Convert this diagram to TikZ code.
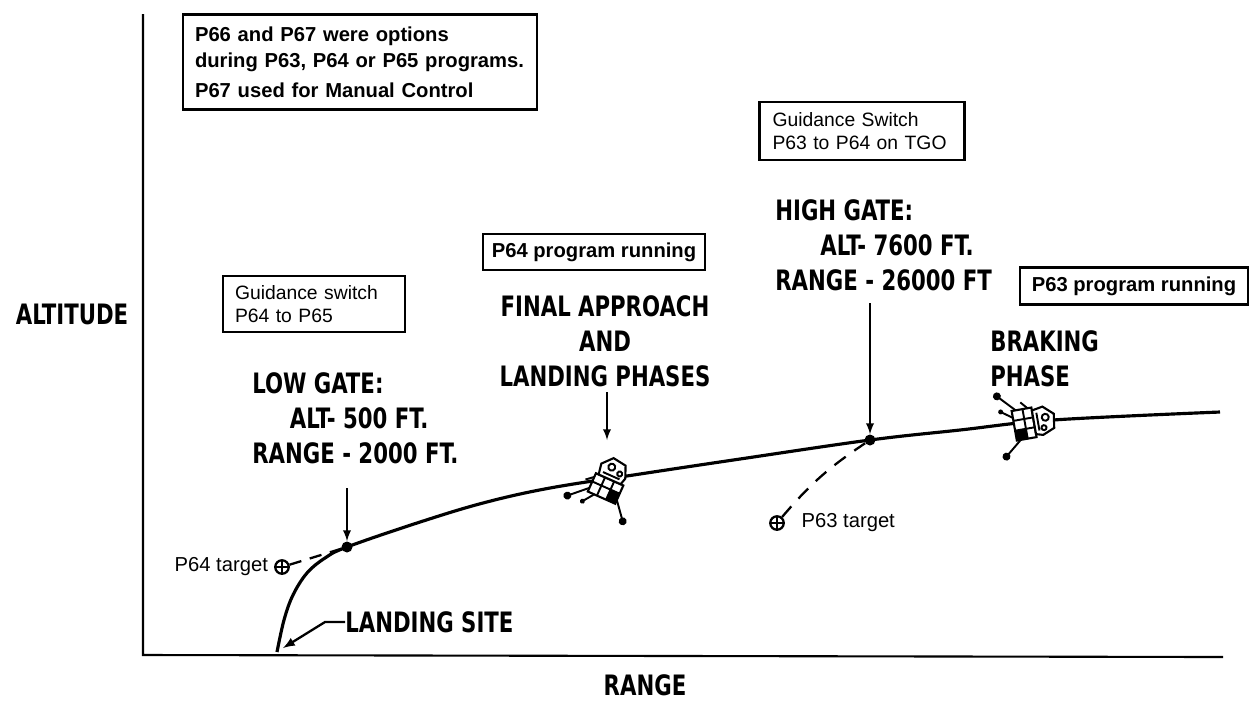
\documentclass[tikz,border=0pt]{standalone}
\usepackage{fontspec}
\setmainfont{Liberation Sans}
\newfontfamily\handfont{DejaVu Sans Condensed}[FakeStretch=0.84]
\usetikzlibrary{arrows}

\begin{document}
\begin{tikzpicture}[x=0.02cm,y=-0.02cm,
  axis/.style={line width=1.2pt},
  traj/.style={line width=1.8pt},
  note/.style={draw,line width=1.3pt,align=left,inner sep=0pt,font=\fontsize{11}{13.5}\selectfont},
  hand/.style={font=\handfont\bfseries\fontsize{16}{20}\selectfont,align=left,inner sep=0pt},
  gate/.style={circle,fill,inner sep=0pt,minimum size=0.22cm},
  target/.style={circle,draw,line width=1.3pt,inner sep=0pt,minimum size=0.27cm,
    path picture={\draw[line width=0.9pt] (path picture bounding box.north) -- (path picture bounding box.south)
      (path picture bounding box.west) -- (path picture bounding box.east);}},
  lm/.pic={
    \draw[fill=white,line width=1.2pt] (-15,-4) rectangle (15,16);
    \draw[line width=1.1pt] (-15,5) -- (15,5) (-5,-4) -- (-5,16) (5,-4) -- (5,16);
    \fill (5,5) rectangle (15,16);
    \draw[fill=white,line width=1.2pt] (-12,-4) -- (-14,-15) -- (-5,-25) -- (9,-23) -- (14,-11) -- (12,-4) -- cycle;
    \draw[line width=1.1pt] (-3,-16) circle (3.5) (7,-13) circle (2.5) (-9,-8) -- (9,-8);
    \draw[line width=1.1pt] (-15,12) -- (-32,28) (15,12) -- (29,29) (-8,16) -- (-16,27) (-15,0) -- (-22,6);
    \fill (-32,28) circle (4) (29,29) circle (4) (-16,27) circle (2.5);
  }]
\useasboundingbox (0,0) rectangle (1260,708);

% axes
\draw[axis] (143,14) -- (143,655) -- (1223,657);
\node[hand] (alt) at (72,314) {ALTITUDE};
\node[hand] (range) at (645,685) {RANGE};

% boxes
\node[note,minimum width=7.08cm,minimum height=1.9cm,text width=6.6cm,font=\bfseries\fontsize{11.5}{15}\selectfont] (opts) at (360,62)
  {P66 and P67 were options\\ during P63, P64 or P65 programs.\\[2pt] P67 used for Manual Control};
\node[note,minimum width=4.1cm,minimum height=1.16cm,text width=3.58cm] (sw63) at (862,131)
  {Guidance Switch\\ P63 to P64 on TGO};
\node[note,minimum width=4.56cm,minimum height=0.74cm,align=center,font=\bfseries\fontsize{11.5}{14}\selectfont] (run63) at (1134,286)
  {P63 program running};
\node[note,minimum width=4.44cm,minimum height=0.72cm,align=center,font=\bfseries\fontsize{11.5}{14}\selectfont] (run64) at (594,252)
  {P64 program running};
\node[note,minimum width=3.64cm,minimum height=1.12cm,text width=3.16cm] (sw64) at (314,304)
  {Guidance switch\\ P64 to P65};

% hand lettering
\node[hand,anchor=north west] (low) at (252,372) {LOW GATE:\\ \hspace{0.75cm}ALT- 500 FT.\\ RANGE - 2000 FT.};
\node[hand,align=center] (final) at (605,341) {FINAL APPROACH\\ AND\\ LANDING PHASES};
\node[hand,anchor=north west] (high) at (775,199) {HIGH GATE:\\ \hspace{0.9cm}ALT- 7600 FT.\\ RANGE - 26000 FT};
\node[hand,anchor=north west] (brake) at (990,330) {BRAKING\\ PHASE};
\node[hand,anchor=west] (site) at (345,622) {LANDING SITE};

% trajectory
\draw[traj] plot[smooth,tension=0.6] coordinates {(277,652) (284,620) (293,595) (307,573) (325,558) (347,547)
  (417,523) (483,503) (550,488) (640,474) (740,459) (870,440) (960,430) (1053,420) (1220,412)};
\node[gate] (lowgate) at (347,547) {};
\node[gate] (highgate) at (870,440) {};
\coordinate (touch) at (283,648);

% targets
\node[target] (t64) at (282,567) {};
\node[anchor=east,font=\fontsize{11.5}{14}\selectfont] (t64lbl) at (t64.west) {P64 target};
\node[target] (t63) at (777,523) {};
\node[anchor=west,font=\fontsize{11.5}{14}\selectfont] (t63lbl) at ([xshift=6pt]t63.east) {P63 target};
\draw[line width=1.3pt,dash pattern=on 7pt off 5pt] (t64) -- (lowgate);
\draw[line width=1.3pt,dash pattern=on 8pt off 6pt] (t63) to[bend left=8] (highgate);

% lunar modules
\pic[rotate=-24] at (608,483) {lm};
\pic[rotate=-80] at (1030,423) {lm};

% pointers
\coordinate (lowtop) at (347,488);
\coordinate (finaltop) at (607,392);
\coordinate (finaltip) at (607,440);
\coordinate (hightop) at (870,303);
\draw[-latex,line width=1.1pt] (lowtop) -- (lowgate);
\draw[-latex,line width=1.1pt] (finaltop) -- (finaltip);
\draw[-latex,line width=1.1pt] (hightop) -- (highgate);
\draw[-latex,line width=1.3pt] (site.west) -- ++(-20,0) -- (touch);
\end{tikzpicture}
\end{document}
